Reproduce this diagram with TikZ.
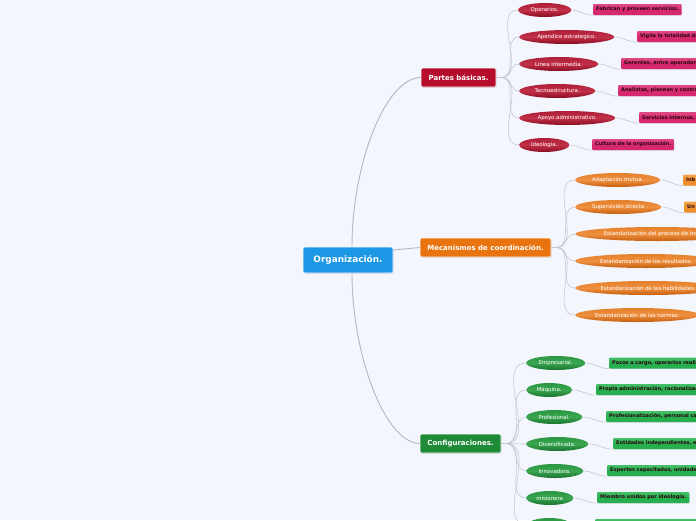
\documentclass[tikz,border=0pt]{standalone}
\usepackage{fontspec}
\setmainfont{DejaVu Sans}
\usetikzlibrary{shapes.geometric,shadows}
\definecolor{bg}{HTML}{F3F6FD}
\definecolor{rootblue}{HTML}{1C97E6}
\definecolor{partred}{HTML}{B60D2D}
\definecolor{mecorange}{HTML}{E9730F}
\definecolor{cfgreen}{HTML}{1F8A37}
\definecolor{redtop}{HTML}{AE1F38}
\definecolor{redmid}{HTML}{C23049}
\definecolor{redbot}{HTML}{880C20}
\definecolor{ortop}{HTML}{E5802A}
\definecolor{ormid}{HTML}{EE9040}
\definecolor{orbot}{HTML}{C65F0E}
\definecolor{grtop}{HTML}{2C9742}
\definecolor{grmid}{HTML}{3AA650}
\definecolor{grbot}{HTML}{1A722E}
\definecolor{leafred}{HTML}{D6286C}
\definecolor{leafredtop}{HTML}{E04A84}
\definecolor{leafor}{HTML}{EE8F2C}
\definecolor{leafortop}{HTML}{F3A550}
\definecolor{leafgr}{HTML}{27AE4E}
\definecolor{leafgrtop}{HTML}{45BF68}
\definecolor{leaftext}{HTML}{2A0610}
\definecolor{linegray}{HTML}{C6C8CE}
\definecolor{trunkgray}{HTML}{B4B6BC}
\begin{document}
\begin{tikzpicture}[x=1pt,y=-1pt,
  mainbox/.style={rectangle, rounded corners=1.5pt, draw=white, line width=0.6pt, text=white,
    inner sep=0pt, minimum height=19pt, font=\bfseries\fontsize{7}{8}\selectfont,
    drop shadow={shadow xshift=0.5pt, shadow yshift=-0.8pt, opacity=0.3}},
  elli/.style={ellipse, inner xsep=-6pt, inner ysep=0pt, minimum height=14pt, anchor=west,
    text=white, font=\fontsize{5.4}{6}\selectfont},
  relli/.style={elli, top color=redtop, bottom color=redbot, middle color=redmid},
  oelli/.style={elli, top color=ortop, bottom color=orbot, middle color=ormid},
  gelli/.style={elli, top color=grtop, bottom color=grbot, middle color=grmid},
  leaf/.style={rectangle, rounded corners=1pt, minimum height=11pt, inner xsep=3pt, inner ysep=0pt,
    anchor=west, text=leaftext, font=\bfseries\fontsize{5}{6}\selectfont,
    drop shadow={shadow xshift=0.4pt, shadow yshift=-0.6pt, opacity=0.25}},
  rleaf/.style={leaf, top color=leafredtop, bottom color=leafred, middle color=leafred},
  oleaf/.style={leaf, top color=leafortop, bottom color=leafor, middle color=leafor},
  gleaf/.style={leaf, top color=leafgrtop, bottom color=leafgr, middle color=leafgr},
  cut/.style={text width=#1, align=left},
  conn/.style={draw=linegray, line width=0.6pt},
  trunk/.style={draw=trunkgray, line width=0.9pt}
]
\fill[bg] (0,0) rectangle (696,520);
\useasboundingbox (0,0) rectangle (696,520);

% main nodes
\node[mainbox, fill=rootblue, minimum width=90pt, minimum height=26pt,
  font=\bfseries\fontsize{8.9}{10}\selectfont] (root) at (348,260) {Organización.};
\node[mainbox, fill=partred, minimum width=75pt] (pb) at (458.5,77.5) {Partes básicas.};
\node[mainbox, fill=mecorange, minimum width=131pt] (mc) at (485.5,247.5) {Mecanismos de coordinación.};
\node[mainbox, fill=cfgreen, minimum width=81pt] (cf) at (460.5,443.5) {Configuraciones.};

% trunks
\draw[trunk] ([xshift=4pt]root.north) .. controls (352,165) and (385,78) .. (pb.west);
\draw[trunk] ([yshift=10pt]root.east) -- (mc.west);
\draw[trunk] ([xshift=4pt]root.south) .. controls (352,355) and (385,443) .. (cf.west);

% Partes basicas children
\node[relli, minimum width=53pt] (r1) at (518,10) {Operarios.};
\node[relli, minimum width=95pt] (r2) at (519,37) {Apendice estrategico.};
\node[relli, minimum width=79pt] (r3) at (519,64) {Linea intermedia.};
\node[relli, minimum width=76pt] (r4) at (519,91) {Tecnoestructura.};
\node[relli, minimum width=96pt] (r5) at (519,118) {Apoyo administrativo.};
\node[relli, minimum width=50pt] (r6) at (519,145) {Ideología.};

\node[rleaf] (lr1) at (593,9.5) {Fabrican y proveen servicios.};
\node[rleaf, cut=66pt] (lr2) at (637,36.5) {Vigila la totalidad de};
\node[rleaf, cut=82pt] (lr3) at (621,63.5) {Gerentes, entre operador};
\node[rleaf, cut=85pt] (lr4) at (618,90.5) {Analistas, planean y contro};
\node[rleaf] (lr5) at (639,117.5) {Servicios internos.};
\node[rleaf] (lr6) at (592,144.5) {Cultura de la organización.};

\foreach \i in {1,...,6}{
  \draw[conn] (pb.east) -- ++(5,0) to[out=0,in=180] (r\i.west);
  \draw[conn] (r\i.east) to[out=0,in=180] (lr\i.south west);
}

% Mecanismos children
\node[oelli, minimum width=85pt] (o1) at (575,180) {Adaptación mutua.};
\node[oelli, minimum width=86pt] (o2) at (575,207) {Supervisión directa};
\node[oelli, minimum width=164pt] (o3) at (575,234) {Estandarización del proceso de trabajo.};
\node[oelli, minimum width=142pt] (o4) at (575,261) {Estandarización de los resultados.};
\node[oelli, minimum width=146pt] (o5) at (575,288) {Estandarización de las habilidades.};
\node[oelli, minimum width=124pt] (o6) at (575,315) {Estandarización de las normas.};

\node[oleaf, cut=20pt] (lo1) at (683,180) {Inb};
\node[oleaf, cut=20pt] (lo2) at (684,207) {Un};

\foreach \i in {1,...,6}{
  \draw[conn] (mc.east) -- ++(5,0) to[out=0,in=180] (o\i.west);
}
\draw[conn] (o1.east) to[out=0,in=180] (lo1.south west);
\draw[conn] (o2.east) to[out=0,in=180] (lo2.south west);

% Configuraciones children
\node[gelli, minimum width=59pt] (g1) at (526,363) {Empresarial.};
\node[gelli, minimum width=46pt] (g2) at (526,390) {Máquina.};
\node[gelli, minimum width=56pt] (g3) at (526,417) {Profesional.};
\node[gelli, minimum width=62pt] (g4) at (526,444) {Diversificada.};
\node[gelli, minimum width=57pt] (g5) at (526,471) {Innovadora.};
\node[gelli, minimum width=47pt] (g6) at (526,498) {misionera};
\node[gelli, minimum width=44pt] (g7) at (527,525) {};

\node[gleaf, cut=88pt] (lg1) at (609,363) {Pocos a cargo, operarios reali};
\node[gleaf, cut=110pt] (lg2) at (596,389.5) {Propia administración, racionalizac};
\node[gleaf, cut=105pt] (lg3) at (606,416.5) {Profesionalización, personal cap};
\node[gleaf, cut=90pt] (lg4) at (613,443.5) {Entidades independientes, e};
\node[gleaf, cut=95pt] (lg5) at (607,470.5) {Expertos capacitados, unidade};
\node[gleaf] (lg6) at (597,497.5) {Miembro unidos por ideología.};
\node[gleaf, cut=100pt] (lg7) at (595,524.5) {};

\foreach \i in {1,...,7}{
  \draw[conn] (cf.east) -- ++(5,0) to[out=0,in=180] (g\i.west);
  \draw[conn] (g\i.east) to[out=0,in=180] (lg\i.south west);
}
\end{tikzpicture}
\end{document}
